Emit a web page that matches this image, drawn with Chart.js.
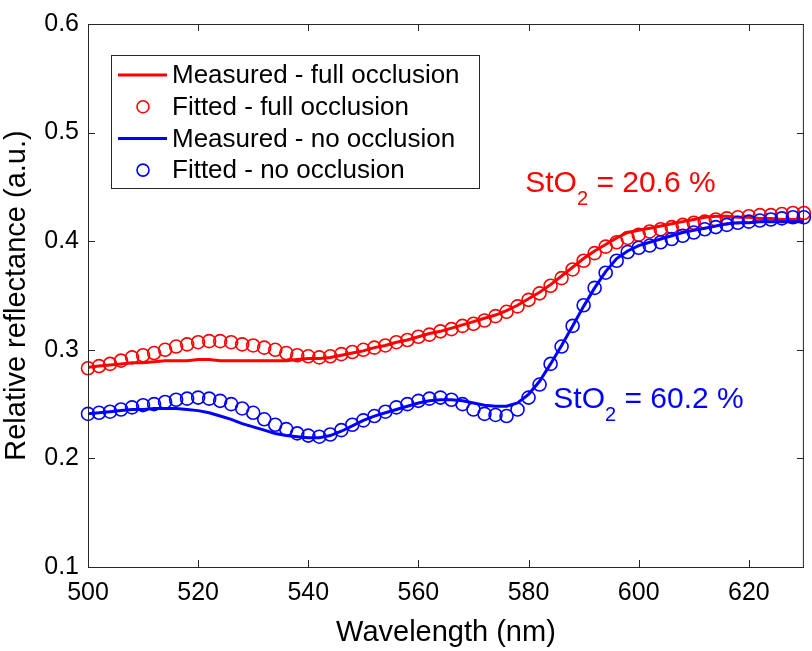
<!DOCTYPE html>
<html>
<head>
<meta charset="utf-8">
<script src="https://cdn.jsdelivr.net/npm/chart.js@4.4.1/dist/chart.umd.min.js"></script>
<style>
  body { margin: 0; background: #fff; }
  canvas { display: block; }
</style>
</head>
<body>
<canvas id="myChart" width="812" height="651"></canvas>
<script>
// wavelength samples (nm)
const wavelength = [500, 502, 504, 506, 508, 510, 512, 514, 516, 518, 520, 522, 524, 526, 528, 530,
  532, 534, 536, 538, 540, 542, 544, 546, 548, 550, 552, 554, 556, 558, 560, 562, 564, 566, 568, 570,
  572, 574, 576, 578, 580, 582, 584, 586, 588, 590, 592, 594, 596, 598, 600, 602, 604, 606, 608, 610,
  612, 614, 616, 618, 620, 622, 624, 626, 628, 630];

const measuredFull = [0.284, 0.285, 0.286, 0.287, 0.288, 0.288, 0.289, 0.290, 0.290, 0.290, 0.291, 0.291,
  0.290, 0.290, 0.290, 0.290, 0.290, 0.290, 0.290, 0.291, 0.292, 0.292, 0.293, 0.295, 0.297, 0.299,
  0.302, 0.304, 0.307, 0.309, 0.312, 0.315, 0.317, 0.320, 0.323, 0.326, 0.329, 0.332, 0.336, 0.341,
  0.347, 0.353, 0.360, 0.368, 0.376, 0.384, 0.391, 0.397, 0.403, 0.408, 0.410, 0.412, 0.414, 0.416,
  0.418, 0.420, 0.422, 0.423, 0.423, 0.422, 0.422, 0.421, 0.421, 0.420, 0.420, 0.420];

const fittedFull = [0.283, 0.285, 0.287, 0.290, 0.293, 0.295, 0.297, 0.300, 0.303, 0.305, 0.307, 0.308,
  0.308, 0.307, 0.305, 0.304, 0.302, 0.300, 0.297, 0.295, 0.294, 0.293, 0.294, 0.296, 0.298, 0.300,
  0.302, 0.304, 0.307, 0.309, 0.312, 0.314, 0.317, 0.319, 0.322, 0.324, 0.327, 0.331, 0.335, 0.340,
  0.346, 0.352, 0.359, 0.366, 0.374, 0.382, 0.389, 0.395, 0.399, 0.403, 0.406, 0.409, 0.411, 0.413,
  0.415, 0.417, 0.418, 0.420, 0.421, 0.422, 0.423, 0.424, 0.424, 0.425, 0.426, 0.426];

const measuredNone = [0.241, 0.242, 0.243, 0.244, 0.245, 0.245, 0.246, 0.246, 0.246, 0.245, 0.244, 0.242,
  0.239, 0.236, 0.232, 0.229, 0.226, 0.223, 0.221, 0.220, 0.219, 0.219, 0.221, 0.225, 0.230, 0.235,
  0.239, 0.242, 0.245, 0.248, 0.251, 0.253, 0.254, 0.254, 0.253, 0.251, 0.249, 0.248, 0.248, 0.251,
  0.259, 0.271, 0.287, 0.304, 0.322, 0.340, 0.357, 0.372, 0.384, 0.391, 0.396, 0.399, 0.402, 0.405,
  0.408, 0.410, 0.412, 0.414, 0.416, 0.417, 0.417, 0.418, 0.418, 0.418, 0.418, 0.418];

const fittedNone = [0.241, 0.242, 0.243, 0.245, 0.247, 0.249, 0.250, 0.252, 0.254, 0.255, 0.256, 0.255,
  0.253, 0.250, 0.246, 0.242, 0.236, 0.231, 0.227, 0.223, 0.221, 0.220, 0.222, 0.226, 0.231, 0.235,
  0.239, 0.243, 0.247, 0.250, 0.253, 0.255, 0.256, 0.254, 0.250, 0.245, 0.241, 0.240, 0.239, 0.245,
  0.256, 0.268, 0.287, 0.303, 0.322, 0.341, 0.357, 0.371, 0.382, 0.390, 0.394, 0.396, 0.399, 0.402,
  0.405, 0.408, 0.411, 0.413, 0.415, 0.417, 0.418, 0.419, 0.420, 0.421, 0.422, 0.422];

const xTicks = [500, 520, 540, 560, 580, 600, 620];
const yTicks = [0.1, 0.2, 0.3, 0.4, 0.5, 0.6];

const labels = ['Measured - full occlusion', 'Fitted - full occlusion', 'Measured - no occlusion', 'Fitted - no occlusion'];
const stoText = [{ main: 'StO', sub: '2', rest: ' = 20.6 %', color: '#ff0000', x: 579.4, y: 0.4455 },
                 { main: 'StO', sub: '2', rest: ' = 60.2 %', color: '#0000ff', x: 584.5, y: 0.246 }];

const FONT = '"Liberation Sans", Arial, Helvetica, sans-serif';
const AXIS = '#262626';

function pts(ys) {
  return wavelength.map((w, i) => ({ x: w, y: ys[i] }));
}

// box on all sides and ticks pointing inward, like matlab
const boxPlugin = {
  id: 'box',
  afterDraw(chart) {
    const { ctx, chartArea: a, scales } = chart;
    ctx.save();
    ctx.strokeStyle = AXIS;
    ctx.lineWidth = 1;
    ctx.strokeRect(a.left + 0.5, a.top + 0.5, a.right - a.left - 1, a.bottom - a.top);
    const tl = 7;
    ctx.beginPath();
    xTicks.forEach(v => {
      const px = Math.round(scales.x.getPixelForValue(v)) + 0.5;
      ctx.moveTo(px, a.bottom); ctx.lineTo(px, a.bottom - tl);
      ctx.moveTo(px, a.top); ctx.lineTo(px, a.top + tl);
    });
    yTicks.forEach(v => {
      const py = Math.round(scales.y.getPixelForValue(v)) + 0.5;
      ctx.moveTo(a.left, py); ctx.lineTo(a.left + tl, py);
      ctx.moveTo(a.right, py); ctx.lineTo(a.right - tl, py);
    });
    ctx.stroke();
    ctx.restore();
  }
};

const notePlugin = {
  id: 'notes',
  afterDatasetsDraw(chart) {
    const { ctx, scales } = chart;
    ctx.save();
    ctx.textBaseline = 'alphabetic';
    ctx.textAlign = 'left';
    stoText.forEach(t => {
      let x = scales.x.getPixelForValue(t.x);
      const y = scales.y.getPixelForValue(t.y);
      ctx.fillStyle = t.color;
      ctx.font = '30px ' + FONT;
      ctx.fillText(t.main, x, y);
      x += ctx.measureText(t.main).width;
      ctx.font = '20px ' + FONT;
      ctx.fillText(t.sub, x, y + 13);
      x += ctx.measureText(t.sub).width;
      ctx.font = '30px ' + FONT;
      ctx.fillText(t.rest, x, y);
    });
    ctx.restore();
  }
};

const legendPlugin = {
  id: 'boxLegend',
  afterDraw(chart) {
    const { ctx, chartArea: a } = chart;
    const bx = a.left + 23, by = a.top + 31, bw = 368, bh = 133;
    ctx.save();
    ctx.fillStyle = '#fff';
    ctx.fillRect(bx, by, bw, bh);
    ctx.strokeStyle = AXIS;
    ctx.lineWidth = 1;
    ctx.strokeRect(bx + 0.5, by + 0.5, bw, bh);
    chart.data.datasets.forEach((ds, i) => {
      const y = by + 20 + i * 31.7;
      if (ds.showLine) {
        ctx.strokeStyle = ds.borderColor;
        ctx.lineWidth = 3;
        ctx.beginPath();
        ctx.moveTo(bx + 7, y); ctx.lineTo(bx + 56, y);
        ctx.stroke();
      } else {
        ctx.strokeStyle = ds.pointBorderColor;
        ctx.lineWidth = 1.6;
        ctx.beginPath();
        ctx.arc(bx + 32, y, 6, 0, Math.PI * 2);
        ctx.stroke();
      }
      ctx.fillStyle = '#000';
      ctx.font = '26px ' + FONT;
      ctx.textBaseline = 'middle';
      ctx.fillText(ds.label, bx + 61, y + 1);
    });
    ctx.restore();
  }
};

const ctx = document.getElementById('myChart').getContext('2d');

const chart = new Chart(ctx, {
  type: 'scatter',
  data: {
    datasets: [
      { label: labels[0], data: pts(measuredFull), showLine: true, borderColor: '#ff0000', borderWidth: 3,
        pointRadius: 0, order: 4 },
      { label: labels[1], data: pts(fittedFull), showLine: false, pointStyle: 'circle', pointRadius: 6.5,
        pointBorderWidth: 1.6, pointBorderColor: '#ff0000', pointBackgroundColor: 'rgba(0,0,0,0)', clip: false, order: 3 },
      { label: labels[2], data: pts(measuredNone), showLine: true, borderColor: '#0000ff', borderWidth: 3,
        pointRadius: 0, order: 2 },
      { label: labels[3], data: pts(fittedNone), showLine: false, pointStyle: 'circle', pointRadius: 6.5,
        pointBorderWidth: 1.6, pointBorderColor: '#0000ff', pointBackgroundColor: 'rgba(0,0,0,0)', clip: false, order: 1 }
    ]
  },
  options: {
    responsive: false,
    animation: false,
    devicePixelRatio: 1,
    layout: { padding: { top: 12, right: 5, left: 0, bottom: 0 } },
    plugins: {
      legend: { display: false },
      tooltip: { enabled: false }
    },
    scales: {
      x: {
        type: 'linear',
        min: 500, max: 630,
        afterFit(scale) { scale.height = 84; },
        afterBuildTicks(scale) { scale.ticks = xTicks.map(v => ({ value: v })); },
        grid: { display: false, drawTicks: false },
        border: { display: true, color: AXIS, width: 1 },
        ticks: { padding: 11, color: '#000', font: { family: FONT, size: 25 }, maxRotation: 0 },
        title: { display: true, text: 'Wavelength (nm)', color: '#000', font: { family: FONT, size: 29 },
          padding: { top: 0, bottom: 1 } }
      },
      y: {
        type: 'linear',
        min: 0.1, max: 0.6,
        afterFit(scale) { scale.width = 88; },
        afterBuildTicks(scale) { scale.ticks = yTicks.map(v => ({ value: v })); },
        grid: { display: false, drawTicks: false },
        border: { display: true, color: AXIS, width: 1 },
        ticks: { padding: 9, color: '#000', font: { family: FONT, size: 25 },
          callback: v => v.toFixed(1) },
        title: { display: true, text: 'Relative reflectance (a.u.)', color: '#000', font: { family: FONT, size: 29 },
          padding: { top: 0, bottom: 0 } }
      }
    }
  },
  plugins: [boxPlugin, notePlugin, legendPlugin]
});
</script>
</body>
</html>
